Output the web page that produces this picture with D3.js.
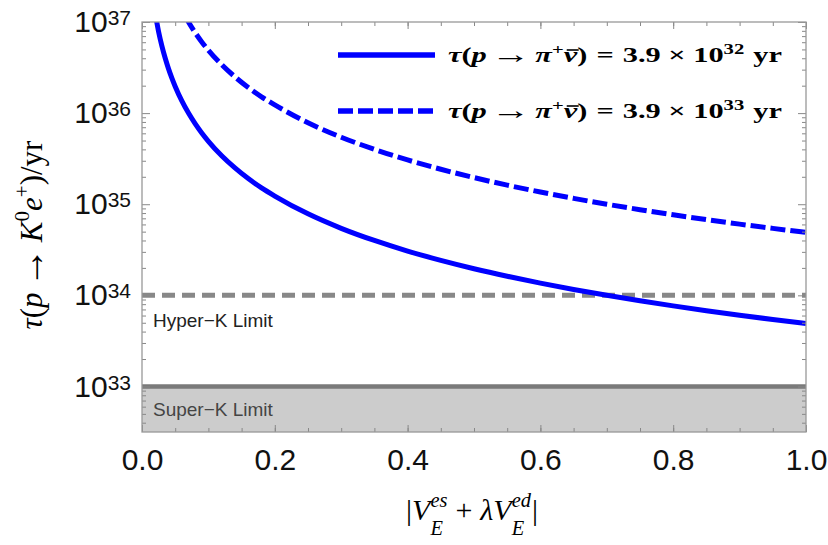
<!DOCTYPE html>
<html>
<head>
<meta charset="utf-8">
<script src="https://cdn.jsdelivr.net/npm/d3@7"></script>
<style>
body { margin: 0; background: #fff; }
</style>
</head>
<body>
<div id="chart"></div>
<script>
// values
var coupling = [0.02, 0.025, 0.03, 0.035, 0.04, 0.045, 0.05, 0.06, 0.07, 0.08, 0.09, 0.1, 0.12, 0.14, 0.16, 0.18, 0.2, 0.25, 0.3, 0.35, 0.4, 0.45, 0.5, 0.55, 0.6, 0.65, 0.7, 0.75, 0.8, 0.85, 0.9, 0.95, 1.0];
var tauLow = [1.23e37, 7.84e36, 5.44e36, 4.00e36, 3.06e36, 2.42e36, 1.96e36, 1.36e36, 1.00e36, 7.66e35, 6.05e35, 4.90e35, 3.40e35, 2.50e35, 1.91e35, 1.51e35, 1.23e35, 7.84e34, 5.44e34, 4.00e34, 3.06e34, 2.42e34, 1.96e34, 1.62e34, 1.36e34, 1.16e34, 1.00e34, 8.71e33, 7.66e33, 6.78e33, 6.05e33, 5.43e33, 4.90e33];
var tauHigh = [1.23e38, 7.84e37, 5.44e37, 4.00e37, 3.06e37, 2.42e37, 1.96e37, 1.36e37, 1.00e37, 7.66e36, 6.05e36, 4.90e36, 3.40e36, 2.50e36, 1.91e36, 1.51e36, 1.23e36, 7.84e35, 5.44e35, 4.00e35, 3.06e35, 2.42e35, 1.96e35, 1.62e35, 1.36e35, 1.16e35, 1.00e35, 8.71e34, 7.66e34, 6.78e34, 6.05e34, 5.43e34, 4.90e34];
var hyperK = 1e34;
var superK = 1e33;
var xTicks = [0, 0.2, 0.4, 0.6, 0.8, 1.0];
var yExps = [33, 34, 35, 36, 37];
var legendExps = ['32', '33'];

var W = 828, H = 545;
var margin = {left: 142, top: 22, right: 22, bottom: 113};
var w = W - margin.left - margin.right;
var h = H - margin.top - margin.bottom;

var svg = d3.select('#chart').append('svg')
	.attr('width', W)
	.attr('height', H);

var g = svg.append('g')
	.attr('transform', 'translate(' + margin.left + ',' + margin.top + ')');

var x = d3.scaleLinear().domain([0, 1]).range([0, w]);
var y = d3.scaleLog().domain([Math.pow(10, 32.5), 1e37]).range([h, 0]);

svg.append('defs').append('clipPath').attr('id', 'plotclip')
	.append('rect').attr('width', w).attr('height', h);

var plot = g.append('g').attr('clip-path', 'url(#plotclip)');

// Super-K excluded band
plot.append('rect')
	.attr('x', 0)
	.attr('y', y(superK))
	.attr('width', w)
	.attr('height', h - y(superK))
	.attr('fill', '#cccccc');
plot.append('line')
	.attr('x1', 0).attr('x2', w)
	.attr('y1', y(superK)).attr('y2', y(superK))
	.attr('stroke', '#7a7a7a')
	.attr('stroke-width', 4.5);

// Hyper-K line
plot.append('line')
	.attr('x1', 0).attr('x2', w)
	.attr('y1', y(hyperK)).attr('y2', y(hyperK))
	.attr('stroke', '#888888')
	.attr('stroke-width', 5)
	.attr('stroke-dasharray', '13,7');

var line = d3.line()
	.x(function(d) { return x(d[0]); })
	.y(function(d) { return y(d[1]); })
	.curve(d3.curveMonotoneX);

plot.append('path')
	.datum(d3.zip(coupling, tauLow))
	.attr('d', line)
	.attr('fill', 'none')
	.attr('stroke', '#0000ff')
	.attr('stroke-width', 5);

plot.append('path')
	.datum(d3.zip(coupling, tauHigh))
	.attr('d', line)
	.attr('fill', 'none')
	.attr('stroke', '#0000ff')
	.attr('stroke-width', 5)
	.attr('stroke-dasharray', '15,5');

// ticks
var minorX = d3.range(0, 1.0001, 0.05);
var minorY = [];
for (var n = 32; n <= 36; n++) {
	for (var k = 2; k <= 9; k++) {
		var v = k * Math.pow(10, n);
		if (v >= Math.pow(10, 32.5) && v <= 1e37) minorY.push(v);
	}
}
var majorY = yExps.map(function(e) { return Math.pow(10, e); });

function tickAxis(axis, tr) {
	var a = g.append('g').attr('transform', tr || null).call(axis);
	a.select('.domain').remove();
	a.selectAll('line').attr('stroke', '#888').attr('stroke-width', 1);
	return a;
}

tickAxis(d3.axisBottom(x).tickValues(minorX).tickSize(-4).tickFormat(''), 'translate(0,' + h + ')');
tickAxis(d3.axisTop(x).tickValues(minorX).tickSize(-4).tickFormat(''));
tickAxis(d3.axisTop(x).tickValues(xTicks).tickSize(-7).tickFormat(''));
var xAxis = tickAxis(d3.axisBottom(x).tickValues(xTicks).tickSize(-7).tickPadding(17)
	.tickFormat(d3.format('.1f')), 'translate(0,' + h + ')');
xAxis.selectAll('text')
	.attr('font-family', 'Liberation Sans, Arial, sans-serif')
	.attr('font-size', 30)
	.attr('fill', '#111');

tickAxis(d3.axisLeft(y).tickValues(minorY).tickSize(-4).tickFormat(''));
tickAxis(d3.axisRight(y).tickValues(minorY).tickSize(-4).tickFormat(''), 'translate(' + w + ',0)');
tickAxis(d3.axisRight(y).tickValues(majorY).tickSize(-8).tickFormat(''), 'translate(' + w + ',0)');
var yAxis = tickAxis(d3.axisLeft(y).tickValues(majorY).tickSize(-8).tickPadding(11).tickFormat(''));
yAxis.selectAll('.tick text').each(function(d) {
	var t = d3.select(this)
		.attr('font-family', 'Liberation Sans, Arial, sans-serif')
		.attr('font-size', 30)
		.attr('fill', '#111')
		.attr('dy', '0.32em');
	t.append('tspan').text('10');
	t.append('tspan').attr('font-size', 21).attr('dy', -7)
		.text(Math.round(Math.log10(d)));
});

// frame
g.append('rect')
	.attr('width', w)
	.attr('height', h)
	.attr('fill', 'none')
	.attr('stroke', '#999')
	.attr('stroke-width', 1.3);

// limit labels
g.append('text')
	.attr('x', 11)
	.attr('y', y(hyperK) + 32)
	.attr('font-family', 'Liberation Sans, Arial, sans-serif')
	.attr('font-size', 19)
	.attr('fill', '#222')
	.text('Hyper\u2212K Limit');
g.append('text')
	.attr('x', 11)
	.attr('y', y(superK) + 30)
	.attr('font-family', 'Liberation Sans, Arial, sans-serif')
	.attr('font-size', 19)
	.attr('fill', '#444')
	.text('Super\u2212K Limit');

// lays out little runs of math text one after another
function typeset(parent, runs, size, weight) {
	var cx = 0, lastStart = 0;
	runs.forEach(function(r) {
		var s = r.small ? size * 0.68 : size * (r.scale || 1);
		var start = r.stack ? lastStart : cx + (r.gap || 0);
		var t = parent.append('text')
			.attr('x', start)
			.attr('y', r.dy || 0)
			.attr('font-family', 'Liberation Serif, Times New Roman, serif')
			.attr('font-size', s)
			.attr('font-weight', weight || 'normal')
			.attr('font-style', r.it ? 'italic' : 'normal')
			.text(r.t);
		var len = t.node().getComputedTextLength();
		if (r.bar) {
			parent.append('line')
				.attr('x1', start + 2).attr('x2', start + len + 1)
				.attr('y1', -s * 0.6).attr('y2', -s * 0.6)
				.attr('stroke', '#000').attr('stroke-width', 1.6);
		}
		var end = start + len + (r.after || 0);
		cx = r.stack ? Math.max(cx, end) : end;
		lastStart = start;
	});
	return cx;
}

// x label
var xl = svg.append('g');
var xlw = typeset(xl, [
	{t: '|'},
	{t: 'V', it: true},
	{t: 'es', it: true, small: true, dy: -13},
	{t: 'E', it: true, small: true, dy: 15, stack: true},
	{t: '+', gap: 8, after: 8},
	{t: '\u03bb', it: true},
	{t: 'V', it: true},
	{t: 'ed', it: true, small: true, dy: -13},
	{t: 'E', it: true, small: true, dy: 15, stack: true},
	{t: '|', gap: 1}
], 30);
xl.attr('transform', 'translate(' + (472 - xlw / 2) + ',520)');

// y label
var yl = svg.append('g');
var ylw = typeset(yl, [
	{t: '\u03c4', it: true},
	{t: '('},
	{t: 'p', it: true},
	{t: '\u2192', gap: 5, after: 5, scale: 1.3, dy: 2},
	{t: 'K', it: true},
	{t: '0', small: true, dy: -13},
	{t: 'e', it: true},
	{t: '+', small: true, dy: -13},
	{t: ')/yr'}
], 31);
yl.attr('transform', 'translate(42,235) rotate(-90) translate(' + (-ylw / 2) + ',0)');

// legend
legendExps.forEach(function(ex, i) {
	var ly = 55 + i * 56;
	svg.append('line')
		.attr('x1', 338).attr('x2', 435)
		.attr('y1', ly).attr('y2', ly)
		.attr('stroke', '#0000ff')
		.attr('stroke-width', 5.5)
		.attr('stroke-dasharray', i === 0 ? null : '15,5');
	var lg = svg.append('g');
	var lw = typeset(lg, [
		{t: '\u03c4', it: true},
		{t: '('},
		{t: 'p', it: true},
		{t: '\u2192', gap: 3, after: 3, scale: 1.3, dy: 1},
		{t: '\u03c0', it: true},
		{t: '+', small: true, dy: -8},
		{t: '\u03bd', it: true, bar: true},
		{t: ')'},
		{t: '=', gap: 6, after: 6},
		{t: '3.9'},
		{t: '\u00d7', gap: 5, after: 5},
		{t: '10'},
		{t: ex, small: true, dy: -8},
		{t: 'yr', gap: 6}
	], 20, 'bold');
	lg.attr('transform', 'translate(448,' + (ly + 7) + ') scale(' + (334 / lw) + ',1)');
});
</script>
</body>
</html>
